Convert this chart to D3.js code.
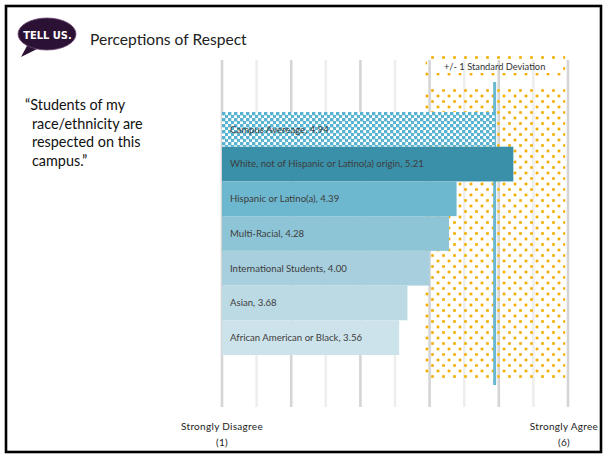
<!DOCTYPE html>
<html>
<head>
<meta charset="utf-8">
<script src="https://cdn.jsdelivr.net/npm/d3@7/dist/d3.min.js"></script>
<style>
  html, body { margin: 0; padding: 0; background: #fff; }
  svg { display: block; }
</style>
</head>
<body>
<svg id="chart" width="605" height="454"></svg>
<script>
// Survey item: mean agreement on a 1–6 scale, by group
const categories = [
  "Campus Avereage",
  "White, not of Hispanic or Latino(a) origin",
  "Hispanic or Latino(a)",
  "Multi-Racial",
  "International Students",
  "Asian",
  "African American or Black"
];
const means = [4.94, 5.21, 4.39, 4.28, 4.00, 3.68, 3.56];
const barColors = ["#55b3cf", "#3a90a9", "#6eb8cf", "#8ec5d6", "#a7cfdd", "#bcdae4", "#cde3eb"];

const campusMean = 4.94;
const campusSD = 1.02;

const scaleMin = 1, scaleMax = 6;
const endLabels = [
  { value: 1, lines: ["Strongly Disagree", "(1)"] },
  { value: 6, lines: ["Strongly Agree", "(6)"] }
];
const quoteLines = ["\u201CStudents of my", "race/ethnicity are", "respected on this", "campus.\u201D"];
const titleText = "Perceptions of Respect";
const sdLabel = "+/- 1 Standard Deviation";

const svg = d3.select("#chart");
const font = "Lato, 'Open Sans', sans-serif";

const x = d3.scaleLinear().domain([scaleMin, scaleMax]).range([222, 568]);
const y = d3.scaleBand().domain(categories).range([112, 355]).padding(0);

// ---- patterns ----
const defs = svg.append("defs");
const dots = defs.append("pattern")
  .attr("id", "sdDots").attr("patternUnits", "userSpaceOnUse")
  .attr("width", 11).attr("height", 11).attr("x", 2).attr("y", 1);
[[0, 0], [5.5, 5.5]].forEach(([dx, dy]) => {
  dots.append("rect").attr("x", dx).attr("y", dy).attr("width", 3).attr("height", 3)
    .attr("fill", "#f9d47a");
  dots.append("rect").attr("x", dx + 0.4).attr("y", dy + 0.4).attr("width", 2.2).attr("height", 2.2)
    .attr("fill", "#f2ad00");
});

const checks = defs.append("pattern")
  .attr("id", "campusChecks").attr("patternUnits", "userSpaceOnUse")
  .attr("width", 6).attr("height", 6).attr("x", 222).attr("y", 112);
checks.append("rect").attr("width", 6).attr("height", 6).attr("fill", "#ffffff");
checks.append("rect").attr("x", 0).attr("y", 0).attr("width", 3.4).attr("height", 3.4).attr("fill", "#58b4d0");
checks.append("rect").attr("x", 3).attr("y", 3).attr("width", 3.4).attr("height", 3.4).attr("fill", "#58b4d0");

// ---- frame ----
svg.append("rect")
  .attr("x", 6).attr("y", 6).attr("width", 595).attr("height", 446)
  .attr("fill", "none").attr("stroke", "#000").attr("stroke-width", 2.6);

// ---- logo ----
const logo = svg.append("g");
logo.append("path")
  .attr("d", "M28,44 L21,57 L39,48 Z")
  .attr("fill", "#2b1234");
logo.append("ellipse")
  .attr("cx", 47).attr("cy", 34).attr("rx", 29).attr("ry", 16)
  .attr("fill", "#2b1234").attr("stroke", "#6d4672").attr("stroke-width", 0.8);
logo.append("text")
  .attr("x", 47.5).attr("y", 39)
  .attr("text-anchor", "middle")
  .attr("font-family", "'DejaVu Sans Condensed', 'DejaVu Sans', sans-serif")
  .attr("font-weight", "bold").attr("font-size", 11)
  .attr("fill", "#fff")
  .text("TELL US.");

// ---- title ----
svg.append("text")
  .attr("x", 90).attr("y", 45)
  .attr("font-family", font).attr("font-size", 15.6)
  .attr("fill", "#222")
  .text(titleText);

// ---- quote ----
svg.append("g").selectAll("text").data(quoteLines).join("text")
  .attr("x", (d, i) => i === 0 ? 25 : 32)
  .attr("y", (d, i) => 110 + i * 18.5)
  .attr("font-family", font).attr("font-size", 14.4)
  .attr("fill", "#111")
  .text(d => d);

// ---- gridlines ----
const gridTicks = x.ticks(10);
svg.append("g").selectAll("line").data(gridTicks).join("line")
  .attr("x1", d => x(d)).attr("x2", d => x(d))
  .attr("y1", 60).attr("y2", 407)
  .attr("stroke", d => Number.isInteger(d) ? "#d5d5d5" : "#eeeeee")
  .attr("stroke-width", 2.6);

// ---- ±1 SD band and its legend box ----
const sdLo = x(campusMean - campusSD);
const sdHi = x(Math.min(scaleMax, campusMean + campusSD));
svg.append("rect")
  .attr("x", sdLo).attr("y", 89).attr("width", sdHi - sdLo).attr("height", 289)
  .attr("fill", "url(#sdDots)");
svg.append("path")
  .attr("d", `M${sdLo},56 H${sdHi} V76 H${sdLo} Z M${sdLo + 3},61 V73 H${sdHi - 3} V61 Z`)
  .attr("fill", "url(#sdDots)").attr("fill-rule", "evenodd");
svg.append("text")
  .attr("x", (sdLo + sdHi) / 2).attr("y", 70)
  .attr("text-anchor", "middle")
  .attr("font-family", font).attr("font-size", 9.3)
  .attr("fill", "#333")
  .text(sdLabel);

// ---- campus mean marker (sits behind the bars) ----
svg.append("line")
  .attr("x1", x(campusMean)).attr("x2", x(campusMean))
  .attr("y1", 82).attr("y2", 385)
  .attr("stroke", "#6ab7d1").attr("stroke-width", 3);

// ---- bars ----
const bars = svg.append("g");
bars.selectAll("rect").data(categories).join("rect")
  .attr("x", x(scaleMin))
  .attr("y", d => y(d))
  .attr("width", (d, i) => x(means[i]) - x(scaleMin))
  .attr("height", y.bandwidth())
  .attr("fill", (d, i) => i === 0 ? "url(#campusChecks)" : barColors[i]);

bars.selectAll("text").data(categories).join("text")
  .attr("x", x(scaleMin) + 8)
  .attr("y", d => y(d) + y.bandwidth() / 2 + 3.3)
  .attr("font-family", font).attr("font-size", 9.6)
  .attr("fill", "#3d3d3d")
  .text((d, i) => `${d}, ${means[i].toFixed(2)}`);

// ---- scale end labels ----
const ends = svg.append("g").selectAll("g").data(endLabels).join("g")
  .attr("transform", d => `translate(${x(d.value) - (d.value === scaleMax ? 4 : 0)},0)`);
ends.selectAll("text").data(d => d.lines).join("text")
  .attr("x", 0).attr("y", (d, i) => 430 + i * 16)
  .attr("text-anchor", "middle")
  .attr("font-family", font).attr("font-size", 10)
  .attr("letter-spacing", 0.3)
  .attr("fill", "#222")
  .text(d => d);
</script>
</body>
</html>
